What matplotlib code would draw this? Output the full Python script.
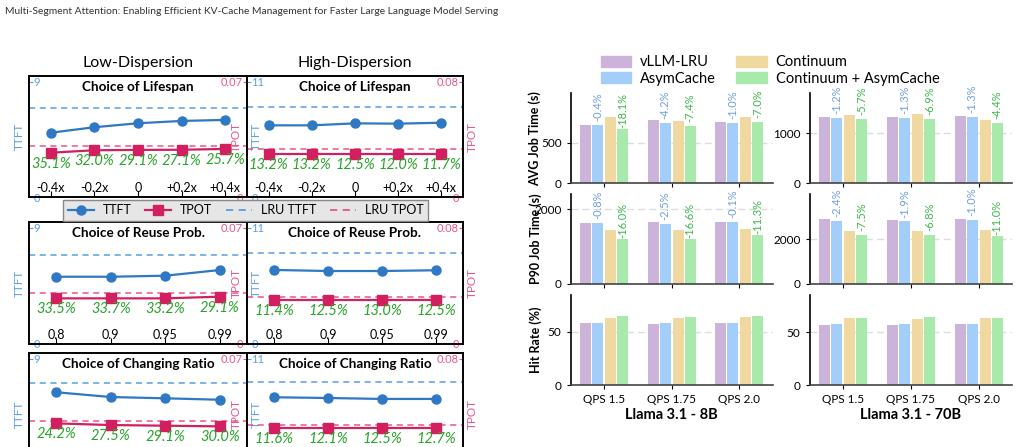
import matplotlib
matplotlib.use('Agg')
import matplotlib.pyplot as plt
from matplotlib.lines import Line2D
from matplotlib.patches import Patch
import numpy as np

plt.rcParams['font.family'] = ['Lato', 'DejaVu Sans']

# ---------------- left block: TTFT / TPOT sensitivity ----------------
lifespan_ticks = ['-0.4x', '-0.2x', '0', '+0.2x', '+0.4x']
reuse_ticks = ['0.8', '0.9', '0.95', '0.99']
# bottom row is cropped in the source figure; its tick labels are not visible
ratio_ticks = ['', '', '', '']

# low dispersion
low_life_ttft = [5.02, 5.45, 5.76, 5.94, 6.02]
low_life_tpot = [0.0269, 0.0284, 0.0286, 0.0287, 0.0292]
low_life_lru = (6.95, 0.0308)
low_life_pct = ['35.1%', '32.0%', '29.1%', '27.1%', '25.7%']

low_reuse_ttft = [5.21, 5.21, 5.29, 5.73]
low_reuse_tpot = [0.0275, 0.0275, 0.0275, 0.0285]
low_reuse_lru = (6.89, 0.0309)
low_reuse_pct = ['33.5%', '33.7%', '33.2%', '29.1%']

low_ratio_ttft = [6.41, 6.04, 5.94, 5.83]
low_ratio_tpot = [0.0311, 0.0301, 0.0297, 0.0293]
low_ratio_lru = (7.10, 0.0327)
low_ratio_pct = ['24.2%', '27.5%', '29.1%', '30.0%']

# high dispersion
high_life_ttft = [6.84, 6.84, 7.03, 7.00, 7.09]
high_life_tpot = [0.0299, 0.0299, 0.0299, 0.0299, 0.0299]
high_life_lru = (8.62, 0.0333)
high_life_pct = ['13.2%', '13.2%', '12.5%', '12.0%', '11.7%']

high_reuse_ttft = [7.01, 6.91, 6.91, 6.98]
high_reuse_tpot = [0.0303, 0.0303, 0.0303, 0.0303]
high_reuse_lru = (8.59, 0.0326)
high_reuse_pct = ['11.4%', '12.5%', '13.0%', '12.5%']

high_ratio_ttft = [7.36, 7.29, 7.20, 7.20]
high_ratio_tpot = [0.0322, 0.0322, 0.0322, 0.0322]
high_ratio_lru = (8.84, 0.0346)
high_ratio_pct = ['11.6%', '12.1%', '12.5%', '12.7%']

# ---------------- right block: job time / hit rate bars ----------------
qps = ['QPS 1.5', 'QPS 1.75', 'QPS 2.0']
methods = ['vLLM-LRU', 'AsymCache', 'Continuum', 'Continuum + AsymCache']

avg_8b = [[718, 780, 755], [715, 747, 747], [816, 767, 816], [668, 710, 759]]
avg_70b = [[1326, 1326, 1346], [1310, 1309, 1328], [1366, 1386, 1266], [1288, 1290, 1210]]
p90_8b = [[1643, 1661, 1661], [1630, 1619, 1659], [1446, 1446, 1482], [1215, 1206, 1315]]
p90_70b = [[2910, 2866, 2910], [2840, 2812, 2881], [2373, 2373, 2418], [2195, 2212, 2152]]
hit_8b = [[58.1, 57.2, 58.1], [58.1, 58.1, 58.1], [62.8, 62.8, 63.8], [64.7, 63.8, 64.7]]
hit_70b = [[57.2, 57.2, 58.2], [58.2, 58.2, 58.2], [63.9, 63.0, 63.9], [63.9, 64.9, 63.9]]

avg_8b_pct = (['-0.4%', '-4.2%', '-1.0%'], ['-18.1%', '-7.4%', '-7.0%'])
avg_70b_pct = (['-1.2%', '-1.3%', '-1.3%'], ['-5.7%', '-6.9%', '-4.4%'])
p90_8b_pct = (['-0.8%', '-2.5%', '-0.1%'], ['-16.0%', '-16.6%', '-11.3%'])
p90_70b_pct = (['-2.4%', '-1.9%', '-1.0%'], ['-7.5%', '-6.8%', '-11.0%'])

TTFT_C = '#2f78c4'
TPOT_C = '#d21f5f'
LRU_TTFT_C = '#5b9ee0'
LRU_TPOT_C = '#e5578a'
GREEN = '#28a428'
BAR_C = ['#cbb3da', '#a3cefa', '#f0d9a1', '#a7eaab']
PCT_BLUE = '#6f9fd6'
PCT_GREEN = '#3cb54a'

W, H = 1019, 447
fig = plt.figure(figsize=(W / 100, H / 100), dpi=100)


def add_ax(x0, y0, x1, y1):
    return fig.add_axes([x0 / W, 1 - y1 / H, (x1 - x0) / W, (y1 - y0) / H])


def line_panel(ax, ticks, ttft, tpot, lru, pct, ttft_max, tpot_max, title,
               right_col, show_zero=True):
    x = np.arange(len(ticks))
    zero = '0' if show_zero else ''
    ax.plot(x, ttft, color=TTFT_C, marker='o', ms=6.5, lw=1.6, zorder=3)
    ax.axhline(lru[0], color=LRU_TTFT_C, ls=(0, (4, 3)), lw=1.1)
    ax.set_xlim(-0.5, len(ticks) - 0.5)
    ax.set_ylim(0, ttft_max * 1.05)
    ax.set_yticks([0, ttft_max])
    ax.set_yticklabels([zero, str(ttft_max)])
    ax.tick_params(axis='y', direction='in', length=3, pad=-3,
                   colors=LRU_TTFT_C, labelsize=8)
    for t in ax.get_yticklabels():
        t.set_ha('left')
    ax.set_xticks(x)
    ax.set_xticklabels(ticks)
    ax.tick_params(axis='x', direction='in', length=4, pad=-11, labelsize=9)
    ax.text(0.5, 0.912, title, transform=ax.transAxes, ha='center', va='center',
            fontweight='bold', fontsize=9.7)
    ax.set_ylabel('TTFT', color=LRU_TTFT_C, fontsize=8.5)
    ax.yaxis.label.set_va('center')
    ax.yaxis.set_label_coords(0.042 if right_col else -0.045, 0.5)

    ax2 = ax.twinx()
    ax2.plot(x, tpot, color=TPOT_C, marker='s', ms=6.5, lw=1.6, zorder=3)
    ax2.axhline(lru[1], color=LRU_TPOT_C, ls=(0, (4, 3)), lw=1.1)
    ax2.set_ylim(0, tpot_max * 1.05)
    ax2.set_yticks([0, tpot_max])
    ax2.set_yticklabels([zero, str(tpot_max)])
    ax2.tick_params(axis='y', direction='in', length=3, pad=-3,
                    colors=LRU_TPOT_C, labelsize=8)
    for t in ax2.get_yticklabels():
        t.set_ha('right')
    ax2.set_ylabel('TPOT', color=LRU_TPOT_C, fontsize=8.5)
    ax2.yaxis.label.set_va('center')
    ax2.yaxis.set_label_coords(1.042 if right_col else 0.95, 0.5)
    for xi, yi, p in zip(x, tpot, pct):
        ax2.annotate(p, (xi, yi), xytext=(0, -8), textcoords='offset points',
                     ha='center', va='center', color=GREEN, style='italic',
                     fontsize=10.5)
    for a in (ax, ax2):
        for s in a.spines.values():
            s.set_linewidth(1.2)


rows = [(76, 197), (222, 344), (353, 475)]
cols = [(29, 247), (247, 463)]
left_panels = [
    [(lifespan_ticks, low_life_ttft, low_life_tpot, low_life_lru, low_life_pct, 'Choice of Lifespan'),
     (lifespan_ticks, high_life_ttft, high_life_tpot, high_life_lru, high_life_pct, 'Choice of Lifespan')],
    [(reuse_ticks, low_reuse_ttft, low_reuse_tpot, low_reuse_lru, low_reuse_pct, 'Choice of Reuse Prob.'),
     (reuse_ticks, high_reuse_ttft, high_reuse_tpot, high_reuse_lru, high_reuse_pct, 'Choice of Reuse Prob.')],
    [(ratio_ticks, low_ratio_ttft, low_ratio_tpot, low_ratio_lru, low_ratio_pct, 'Choice of Changing Ratio'),
     (ratio_ticks, high_ratio_ttft, high_ratio_tpot, high_ratio_lru, high_ratio_pct, 'Choice of Changing Ratio')],
]
for r, (y0, y1) in enumerate(rows):
    for c, (x0, x1) in enumerate(cols):
        ticks, ttft, tpot, lru, pct, title = left_panels[r][c]
        ax = add_ax(x0, y0, x1, y1)
        vis = y1 < H
        if c == 0:
            line_panel(ax, ticks, ttft, tpot, lru, pct, 9, 0.07, title, False, vis)
        else:
            line_panel(ax, ticks, ttft, tpot, lru, pct, 11, 0.08, title, True, vis)
        if r == 0:
            ax.text(0.5, 1.11, 'Low-Dispersion' if c == 0 else 'High-Dispersion',
                    transform=ax.transAxes, ha='center', va='center', fontsize=11.5)

line_handles = [
    Line2D([], [], color=TTFT_C, marker='o', ms=6.5, lw=1.6),
    Line2D([], [], color=TPOT_C, marker='s', ms=6.5, lw=1.6),
    Line2D([], [], color=LRU_TTFT_C, ls=(0, (4, 3)), lw=1.3),
    Line2D([], [], color=LRU_TPOT_C, ls=(0, (4, 3)), lw=1.3),
]
leg = fig.legend(line_handles, ['TTFT', 'TPOT', 'LRU TTFT', 'LRU TPOT'], ncol=4,
                 loc='center', bbox_to_anchor=(245.5 / W, 1 - 210.5 / H),
                 fontsize=9, frameon=True, fancybox=False, handlelength=2.1,
                 columnspacing=1.1, borderpad=0.35, handletextpad=0.7)
leg.get_frame().set_facecolor('#e6e6e6')
leg.get_frame().set_edgecolor('#888888')
leg.get_frame().set_alpha(1)


# ---------------- bar panels ----------------
def bar_panel(ax, data, ymax, ytick, pct=None, show_x=False):
    x = np.arange(len(qps))
    offs = [-0.274, -0.096, 0.096, 0.274]
    for k in range(4):
        ax.bar(x + offs[k], data[k], width=0.165, color=BAR_C[k], zorder=2)
    if pct is not None:
        for k, labels, col in ((1, pct[0], PCT_BLUE), (3, pct[1], PCT_GREEN)):
            for xi, h, p in zip(x + offs[k], data[k], labels):
                ax.annotate(p, (xi, h), xytext=(0, 13), textcoords='offset points',
                            rotation=90, ha='center', va='center', color=col,
                            fontsize=8)
    ax.set_xlim(-0.5, 2.5)
    ax.set_ylim(0, ymax)
    ax.set_yticks([0, ytick])
    ax.yaxis.grid(True, ls=(0, (5, 3)), color='#dddddd', lw=1)
    ax.set_axisbelow(True)
    ax.set_xticks(x)
    if show_x:
        ax.set_xticklabels(qps)
    else:
        ax.set_xticklabels([])
    ax.tick_params(labelsize=8.5, length=3)
    for s in ('top', 'right'):
        ax.spines[s].set_visible(False)
    ax.spines['left'].set_linewidth(1.2)
    ax.spines['bottom'].set_linewidth(1.2)
    ax.spines['bottom'].set_color('#444444')


bar_rows = [(93, 183.3), (194, 284), (295, 385)]
bar_cols = [(570.5, 773), (809.5, 1012.5)]
bar_specs = [
    [(avg_8b, 1112, 500, avg_8b_pct), (avg_70b, 1806, 1000, avg_70b_pct)],
    [(p90_8b, 2410, 2000, p90_8b_pct), (p90_70b, 4030, 2000, p90_70b_pct)],
    [(hit_8b, 84.4, 50, None), (hit_70b, 85.3, 50, None)],
]
ylabels = ['AVG Job Time (s)', 'P90 Job Time (s)', 'Hit Rate (%)']
xlabels = ['Llama 3.1 - 8B', 'Llama 3.1 - 70B']
for r, (y0, y1) in enumerate(bar_rows):
    for c, (x0, x1) in enumerate(bar_cols):
        data, ymax, ytick, pct = bar_specs[r][c]
        ax = add_ax(x0, y0, x1, y1)
        bar_panel(ax, data, ymax, ytick, pct, show_x=(r == 2))
        if c == 0:
            ax.set_ylabel(ylabels[r], fontweight='bold', fontsize=9)
            ax.yaxis.set_label_coords(-0.143, 0.5)
        if r == 2:
            ax.set_xlabel(xlabels[c], fontweight='bold', fontsize=10.5, labelpad=2)

bar_handles = [Patch(color=BAR_C[k]) for k in range(4)]
fig.legend(bar_handles, methods, ncol=2, loc='center',
           bbox_to_anchor=(770 / W, 1 - 70.5 / H), fontsize=10.5, frameon=False,
           handlelength=2.1, handleheight=0.85, labelspacing=0.15,
           columnspacing=1.4, handletextpad=0.6)

fig.text(5 / W, 1 - 12 / H,
         'Multi-Segment Attention: Enabling Efficient KV-Cache Management for '
         'Faster Large Language Model Serving',
         fontsize=7.4, color='#333333', va='center', ha='left')

fig.savefig('out.png', dpi=100)
